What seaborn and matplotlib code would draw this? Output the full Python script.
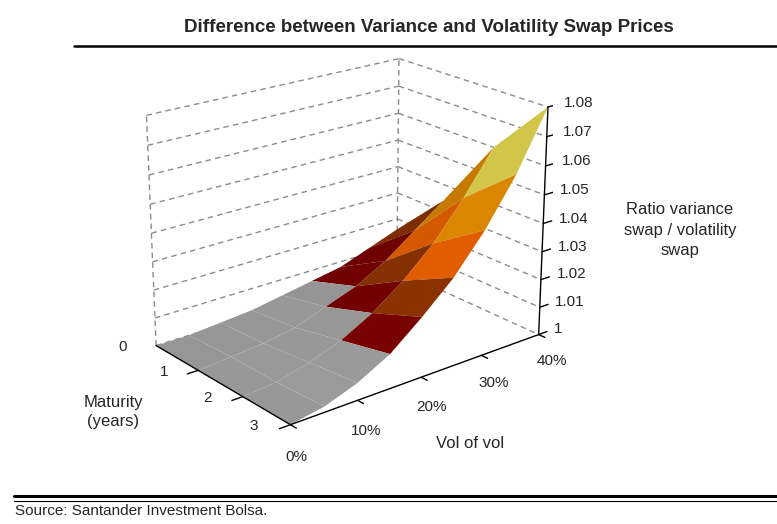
import numpy as np
import matplotlib
matplotlib.use("Agg")
import matplotlib.pyplot as plt
import seaborn as sns
from matplotlib.colors import ListedColormap, BoundaryNorm
from matplotlib.lines import Line2D

# data: ratio variance swap / volatility swap
maturity = [0, 1, 2, 3]                                   # years
vol_of_vol = [0, 5, 10, 15, 20, 25, 30, 35, 40]           # %
ratio = [
    [1.000, 1.000, 1.001, 1.002, 1.004, 1.006, 1.008, 1.012, 1.016],
    [1.000, 1.001, 1.002, 1.004, 1.008, 1.012, 1.018, 1.026, 1.034],
    [1.000, 1.001, 1.004, 1.008, 1.014, 1.022, 1.032, 1.045, 1.060],
    [1.000, 1.002, 1.006, 1.012, 1.021, 1.031, 1.044, 1.060, 1.080],
]
z_ticks = [1.00, 1.01, 1.02, 1.03, 1.04, 1.05, 1.06, 1.07, 1.08]
z_labels = ["1", "1.01", "1.02", "1.03", "1.04", "1.05", "1.06", "1.07", "1.08"]
vol_ticks = [0, 10, 20, 30, 40]
vol_labels = ["0%", "10%", "20%", "30%", "40%"]
mat_labels = ["0", "1", "2", "3"]

band_colors = ["#a4a4a4", "#800000", "#993800", "#ff6a00",
               "#ff9d00", "#ffcc00", "#fff05a", "#ffffb0"]

sns.set_theme(style="white")
plt.rcParams["font.family"] = ["Liberation Sans", "DejaVu Sans"]

fig = plt.figure(figsize=(7.77, 5.24), dpi=100)
cx, cy, aw, ah = 343, 234, 520, 420
ax = fig.add_axes([(cx - aw / 2) / 777, (524 - cy - ah / 2) / 524, aw / 777, ah / 524],
                  projection="3d", computed_zorder=False)
ax.set_proj_type("persp", focal_length=0.8)
ax.view_init(elev=21, azim=-39)
box = (230, 328, 250)
ax.set_box_aspect(box, zoom=1.07)

X, Y = np.meshgrid(maturity, vol_of_vol, indexing="ij")
Z = np.array(ratio)
cmap = ListedColormap(sns.color_palette(band_colors))
norm = BoundaryNorm(z_ticks, cmap.N)

# colour of each cell from its mean height, darkened by how it faces the light
P = np.stack([X / 3 * box[0], Y / 40 * box[1], (Z - 1) / 0.08 * box[2]], axis=-1)
d1 = P[1:, 1:] - P[:-1, :-1]
d2 = P[:-1, 1:] - P[1:, :-1]
nrm = np.cross(d1, d2)
nrm = nrm / np.linalg.norm(nrm, axis=-1, keepdims=True)
nrm *= np.sign(nrm[..., 2:3])
light = np.array([0.35, -0.45, 0.82])
light = light / np.linalg.norm(light)
bright = 0.5 + 0.5 * np.clip(nrm @ light, 0, 1)
cell = (Z[:-1, :-1] + Z[1:, :-1] + Z[:-1, 1:] + Z[1:, 1:]) / 4
fc = np.ones(Z.shape + (4,))
fc[:-1, :-1] = cmap(norm(cell))
fc[:-1, :-1, :3] *= bright[..., None]
ax.plot_surface(X, Y, Z, facecolors=fc, shade=False,
                linewidth=0, antialiased=True, zorder=2)

ax.set_xlim(0, 3)
ax.set_ylim(0, 40)
ax.set_zlim(1.0, 1.08)
ax.set_axis_off()

# back walls: dashed grid lines
gk = dict(color="#8c8c8c", lw=1.0, ls=(0, (4, 3)), zorder=1)
for z in z_ticks:
    ax.plot([0, 0], [0, 40], [z, z], **gk)
    ax.plot([0, 3], [40, 40], [z, z], **gk)
ax.plot([0, 0], [0, 0], [1.0, 1.08], **gk)
ax.plot([0, 0], [40, 40], [1.0, 1.08], **gk)

# axes in black
ak = dict(color="black", lw=1.0, zorder=3)
ax.plot([3, 3], [0, 40], [1.0, 1.0], **ak)
ax.plot([0, 3], [0, 0], [1.0, 1.0], **ak)
ax.plot([3, 3], [40, 40], [1.0, 1.08], **ak)

for v, lab in zip(vol_ticks, vol_labels):
    ax.plot([3, 3.12], [v, v], [1.0, 1.0], **ak)
    ax.text(3.72, v - 4.3, 1.0, lab, fontsize=11, ha="center", va="center")
for m, lab in zip(maturity, mat_labels):
    if m > 0:
        ax.plot([m, m], [0, -1.6], [1.0, 1.0], **ak)
    ax.text(m - 0.25, -3.5, 1.0, lab, fontsize=11, ha="center", va="center")
for z, lab in zip(z_ticks, z_labels):
    ax.plot([3, 3], [40, 41.5], [z, z], **ak)
    ax.text(3, 42.8, z, lab, fontsize=11, ha="left", va="center")

fig.text(0.552, 0.947, "Difference between Variance and Volatility Swap Prices",
         ha="center", va="center", fontsize=13.5, fontweight="bold")
fig.text(113 / 777, 1 - 412 / 524, "Maturity\n(years)", ha="center", va="center",
         fontsize=12, linespacing=1.4)
fig.text(470 / 777, 1 - 443 / 524, "Vol of vol", ha="center", va="center", fontsize=12)
fig.text(680 / 777, 1 - 230 / 524, "Ratio variance\nswap / volatility\nswap",
         ha="center", va="center", fontsize=12, linespacing=1.45)
fig.text(15 / 777, 1 - 511 / 524, "Source: Santander Investment Bolsa.",
         ha="left", va="center", fontsize=11)

fig.add_artist(Line2D([74 / 777, 1], [1 - 46 / 524] * 2, color="black", lw=1.8))
fig.add_artist(Line2D([14 / 777, 1], [1 - 496 / 524] * 2, color="black", lw=2.2))
fig.add_artist(Line2D([14 / 777, 1], [1 - 501 / 524] * 2, color="black", lw=0.8))

fig.savefig("out.png", dpi=100)
